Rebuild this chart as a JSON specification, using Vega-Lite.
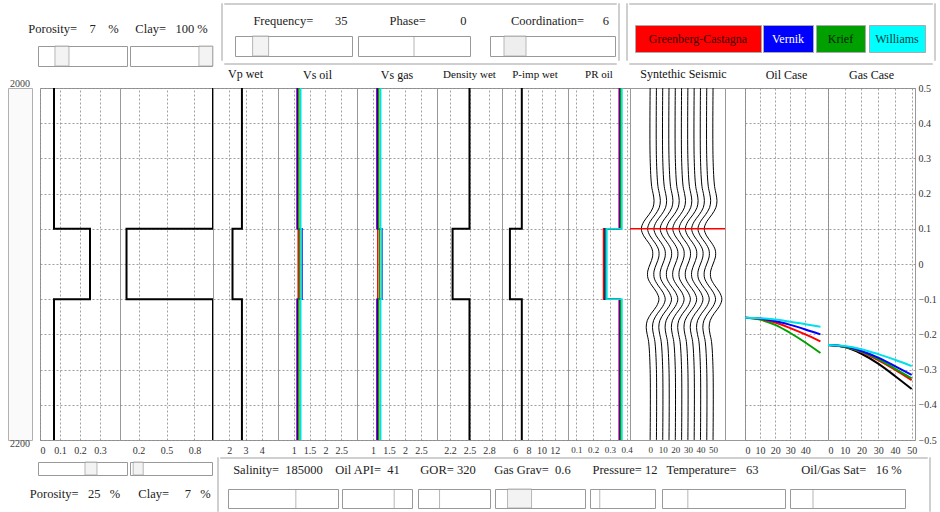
{
"$schema":"https://vega.github.io/schema/vega-lite/v6.json",
"background":"white",
"padding":{"left":0,"top":2,"right":0,"bottom":0},
"config":{
 "font":"Liberation Serif",
 "view":{"stroke":"#999"},
 "axis":{"domain":false,"ticks":false,"labelFont":"Liberation Serif","labelFontSize":10,"labelColor":"#333","labelPadding":5,"gridColor":"#888","gridDash":[2,2],"gridWidth":0.8,"labelOverlap":false},
 "title":{"font":"Liberation Serif","fontSize":12,"fontWeight":"normal","color":"#111","offset":4}
},
"datasets":{
 "logs":[
  {"t":"por","m":"K","i":0,"d":2000,"v":0.07},{"t":"por","m":"K","i":1,"d":2080,"v":0.07},{"t":"por","m":"K","i":2,"d":2080,"v":0.25},{"t":"por","m":"K","i":3,"d":2120,"v":0.25},{"t":"por","m":"K","i":4,"d":2120,"v":0.07},{"t":"por","m":"K","i":5,"d":2200,"v":0.07},
  {"t":"clay","m":"K","i":0,"d":2000,"v":1},{"t":"clay","m":"K","i":1,"d":2080,"v":1},{"t":"clay","m":"K","i":2,"d":2080,"v":0.07},{"t":"clay","m":"K","i":3,"d":2120,"v":0.07},{"t":"clay","m":"K","i":4,"d":2120,"v":1},{"t":"clay","m":"K","i":5,"d":2200,"v":1},
  {"t":"vp","m":"K","i":0,"d":2000,"v":2.78},{"t":"vp","m":"K","i":1,"d":2080,"v":2.78},{"t":"vp","m":"K","i":2,"d":2080,"v":2.2},{"t":"vp","m":"K","i":3,"d":2120,"v":2.2},{"t":"vp","m":"K","i":4,"d":2120,"v":2.78},{"t":"vp","m":"K","i":5,"d":2200,"v":2.78},
  {"t":"vsoil","m":"R","i":0,"d":2000,"v":1.10},{"t":"vsoil","m":"R","i":1,"d":2080,"v":1.10},{"t":"vsoil","m":"R","i":2,"d":2080,"v":1.14},{"t":"vsoil","m":"R","i":3,"d":2120,"v":1.14},{"t":"vsoil","m":"R","i":4,"d":2120,"v":1.10},{"t":"vsoil","m":"R","i":5,"d":2200,"v":1.10},
  {"t":"vsoil","m":"B","i":0,"d":2000,"v":1.12},{"t":"vsoil","m":"B","i":1,"d":2080,"v":1.12},{"t":"vsoil","m":"B","i":2,"d":2080,"v":1.26},{"t":"vsoil","m":"B","i":3,"d":2120,"v":1.26},{"t":"vsoil","m":"B","i":4,"d":2120,"v":1.12},{"t":"vsoil","m":"B","i":5,"d":2200,"v":1.12},
  {"t":"vsoil","m":"G","i":0,"d":2000,"v":1.16},{"t":"vsoil","m":"G","i":1,"d":2080,"v":1.16},{"t":"vsoil","m":"G","i":2,"d":2080,"v":1.19},{"t":"vsoil","m":"G","i":3,"d":2120,"v":1.19},{"t":"vsoil","m":"G","i":4,"d":2120,"v":1.16},{"t":"vsoil","m":"G","i":5,"d":2200,"v":1.16},
  {"t":"vsoil","m":"C","i":0,"d":2000,"v":1.22},{"t":"vsoil","m":"C","i":1,"d":2080,"v":1.22},{"t":"vsoil","m":"C","i":2,"d":2080,"v":1.24},{"t":"vsoil","m":"C","i":3,"d":2120,"v":1.24},{"t":"vsoil","m":"C","i":4,"d":2120,"v":1.22},{"t":"vsoil","m":"C","i":5,"d":2200,"v":1.22},
  {"t":"vsgas","m":"R","i":0,"d":2000,"v":1.12},{"t":"vsgas","m":"R","i":1,"d":2080,"v":1.12},{"t":"vsgas","m":"R","i":2,"d":2080,"v":1.15},{"t":"vsgas","m":"R","i":3,"d":2120,"v":1.15},{"t":"vsgas","m":"R","i":4,"d":2120,"v":1.12},{"t":"vsgas","m":"R","i":5,"d":2200,"v":1.12},
  {"t":"vsgas","m":"B","i":0,"d":2000,"v":1.14},{"t":"vsgas","m":"B","i":1,"d":2080,"v":1.14},{"t":"vsgas","m":"B","i":2,"d":2080,"v":1.28},{"t":"vsgas","m":"B","i":3,"d":2120,"v":1.28},{"t":"vsgas","m":"B","i":4,"d":2120,"v":1.14},{"t":"vsgas","m":"B","i":5,"d":2200,"v":1.14},
  {"t":"vsgas","m":"G","i":0,"d":2000,"v":1.18},{"t":"vsgas","m":"G","i":1,"d":2080,"v":1.18},{"t":"vsgas","m":"G","i":2,"d":2080,"v":1.21},{"t":"vsgas","m":"G","i":3,"d":2120,"v":1.21},{"t":"vsgas","m":"G","i":4,"d":2120,"v":1.18},{"t":"vsgas","m":"G","i":5,"d":2200,"v":1.18},
  {"t":"vsgas","m":"C","i":0,"d":2000,"v":1.24},{"t":"vsgas","m":"C","i":1,"d":2080,"v":1.24},{"t":"vsgas","m":"C","i":2,"d":2080,"v":1.27},{"t":"vsgas","m":"C","i":3,"d":2120,"v":1.27},{"t":"vsgas","m":"C","i":4,"d":2120,"v":1.24},{"t":"vsgas","m":"C","i":5,"d":2200,"v":1.24},
  {"t":"rho","m":"K","i":0,"d":2000,"v":2.5},{"t":"rho","m":"K","i":1,"d":2080,"v":2.5},{"t":"rho","m":"K","i":2,"d":2080,"v":2.24},{"t":"rho","m":"K","i":3,"d":2120,"v":2.24},{"t":"rho","m":"K","i":4,"d":2120,"v":2.5},{"t":"rho","m":"K","i":5,"d":2200,"v":2.5},
  {"t":"pimp","m":"K","i":0,"d":2000,"v":7.0},{"t":"pimp","m":"K","i":1,"d":2080,"v":7.0},{"t":"pimp","m":"K","i":2,"d":2080,"v":5.2},{"t":"pimp","m":"K","i":3,"d":2120,"v":5.2},{"t":"pimp","m":"K","i":4,"d":2120,"v":7.0},{"t":"pimp","m":"K","i":5,"d":2200,"v":7.0},
  {"t":"pr","m":"R","i":0,"d":2000,"v":0.355},{"t":"pr","m":"R","i":1,"d":2080,"v":0.355},{"t":"pr","m":"R","i":2,"d":2080,"v":0.262},{"t":"pr","m":"R","i":3,"d":2120,"v":0.262},{"t":"pr","m":"R","i":4,"d":2120,"v":0.355},{"t":"pr","m":"R","i":5,"d":2200,"v":0.355},
  {"t":"pr","m":"B","i":0,"d":2000,"v":0.36},{"t":"pr","m":"B","i":1,"d":2080,"v":0.36},{"t":"pr","m":"B","i":2,"d":2080,"v":0.27},{"t":"pr","m":"B","i":3,"d":2120,"v":0.27},{"t":"pr","m":"B","i":4,"d":2120,"v":0.36},{"t":"pr","m":"B","i":5,"d":2200,"v":0.36},
  {"t":"pr","m":"G","i":0,"d":2000,"v":0.365},{"t":"pr","m":"G","i":1,"d":2080,"v":0.365},{"t":"pr","m":"G","i":2,"d":2080,"v":0.275},{"t":"pr","m":"G","i":3,"d":2120,"v":0.275},{"t":"pr","m":"G","i":4,"d":2120,"v":0.365},{"t":"pr","m":"G","i":5,"d":2200,"v":0.365},
  {"t":"pr","m":"C","i":0,"d":2000,"v":0.372},{"t":"pr","m":"C","i":1,"d":2080,"v":0.372},{"t":"pr","m":"C","i":2,"d":2080,"v":0.282},{"t":"pr","m":"C","i":3,"d":2120,"v":0.282},{"t":"pr","m":"C","i":4,"d":2120,"v":0.372},{"t":"pr","m":"C","i":5,"d":2200,"v":0.372}
 ],
 "seis":[
  {"a":0,"d":2000,"x":0},{"a":0,"d":2040,"x":0},{"a":0,"d":2056,"x":1.23},{"a":0,"d":2060,"x":2.34},{"a":0,"d":2064,"x":3.12},{"a":0,"d":2068,"x":2.23},{"a":0,"d":2072,"x":-0.99},{"a":0,"d":2076,"x":-5.09},{"a":0,"d":2080,"x":-7},{"a":0,"d":2084,"x":-5.12},{"a":0,"d":2088,"x":-1.14},{"a":0,"d":2092,"x":1.75},{"a":0,"d":2096,"x":1.89},{"a":0,"d":2100,"x":0},{"a":0,"d":2104,"x":-1.89},{"a":0,"d":2108,"x":-1.75},{"a":0,"d":2112,"x":1.14},{"a":0,"d":2116,"x":5.12},{"a":0,"d":2120,"x":7},{"a":0,"d":2124,"x":5.09},{"a":0,"d":2128,"x":0.99},{"a":0,"d":2132,"x":-2.23},{"a":0,"d":2136,"x":-3.12},{"a":0,"d":2140,"x":-2.34},{"a":0,"d":2144,"x":-1.23},{"a":0,"d":2160,"x":0},{"a":0,"d":2200,"x":0},
  {"a":5,"d":2000,"x":5},{"a":5,"d":2040,"x":5},{"a":5,"d":2056,"x":6.23},{"a":5,"d":2060,"x":7.34},{"a":5,"d":2064,"x":8.12},{"a":5,"d":2068,"x":7.23},{"a":5,"d":2072,"x":4.01},{"a":5,"d":2076,"x":-0.09},{"a":5,"d":2080,"x":-2},{"a":5,"d":2084,"x":-0.12},{"a":5,"d":2088,"x":3.86},{"a":5,"d":2092,"x":6.75},{"a":5,"d":2096,"x":6.89},{"a":5,"d":2100,"x":5},{"a":5,"d":2104,"x":3.11},{"a":5,"d":2108,"x":3.25},{"a":5,"d":2112,"x":6.14},{"a":5,"d":2116,"x":10.12},{"a":5,"d":2120,"x":12},{"a":5,"d":2124,"x":10.09},{"a":5,"d":2128,"x":5.99},{"a":5,"d":2132,"x":2.77},{"a":5,"d":2136,"x":1.88},{"a":5,"d":2140,"x":2.66},{"a":5,"d":2144,"x":3.77},{"a":5,"d":2160,"x":5},{"a":5,"d":2200,"x":5},
  {"a":10,"d":2000,"x":10},{"a":10,"d":2040,"x":10},{"a":10,"d":2056,"x":11.23},{"a":10,"d":2060,"x":12.34},{"a":10,"d":2064,"x":13.12},{"a":10,"d":2068,"x":12.23},{"a":10,"d":2072,"x":9.01},{"a":10,"d":2076,"x":4.91},{"a":10,"d":2080,"x":3},{"a":10,"d":2084,"x":4.88},{"a":10,"d":2088,"x":8.86},{"a":10,"d":2092,"x":11.75},{"a":10,"d":2096,"x":11.89},{"a":10,"d":2100,"x":10},{"a":10,"d":2104,"x":8.11},{"a":10,"d":2108,"x":8.25},{"a":10,"d":2112,"x":11.14},{"a":10,"d":2116,"x":15.12},{"a":10,"d":2120,"x":17},{"a":10,"d":2124,"x":15.09},{"a":10,"d":2128,"x":10.99},{"a":10,"d":2132,"x":7.77},{"a":10,"d":2136,"x":6.88},{"a":10,"d":2140,"x":7.66},{"a":10,"d":2144,"x":8.77},{"a":10,"d":2160,"x":10},{"a":10,"d":2200,"x":10},
  {"a":15,"d":2000,"x":15},{"a":15,"d":2040,"x":15},{"a":15,"d":2056,"x":16.23},{"a":15,"d":2060,"x":17.34},{"a":15,"d":2064,"x":18.12},{"a":15,"d":2068,"x":17.23},{"a":15,"d":2072,"x":14.01},{"a":15,"d":2076,"x":9.91},{"a":15,"d":2080,"x":8},{"a":15,"d":2084,"x":9.88},{"a":15,"d":2088,"x":13.86},{"a":15,"d":2092,"x":16.75},{"a":15,"d":2096,"x":16.89},{"a":15,"d":2100,"x":15},{"a":15,"d":2104,"x":13.11},{"a":15,"d":2108,"x":13.25},{"a":15,"d":2112,"x":16.14},{"a":15,"d":2116,"x":20.12},{"a":15,"d":2120,"x":22},{"a":15,"d":2124,"x":20.09},{"a":15,"d":2128,"x":15.99},{"a":15,"d":2132,"x":12.77},{"a":15,"d":2136,"x":11.88},{"a":15,"d":2140,"x":12.66},{"a":15,"d":2144,"x":13.77},{"a":15,"d":2160,"x":15},{"a":15,"d":2200,"x":15},
  {"a":20,"d":2000,"x":20},{"a":20,"d":2040,"x":20},{"a":20,"d":2056,"x":21.23},{"a":20,"d":2060,"x":22.34},{"a":20,"d":2064,"x":23.12},{"a":20,"d":2068,"x":22.23},{"a":20,"d":2072,"x":19.01},{"a":20,"d":2076,"x":14.91},{"a":20,"d":2080,"x":13},{"a":20,"d":2084,"x":14.88},{"a":20,"d":2088,"x":18.86},{"a":20,"d":2092,"x":21.75},{"a":20,"d":2096,"x":21.89},{"a":20,"d":2100,"x":20},{"a":20,"d":2104,"x":18.11},{"a":20,"d":2108,"x":18.25},{"a":20,"d":2112,"x":21.14},{"a":20,"d":2116,"x":25.12},{"a":20,"d":2120,"x":27},{"a":20,"d":2124,"x":25.09},{"a":20,"d":2128,"x":20.99},{"a":20,"d":2132,"x":17.77},{"a":20,"d":2136,"x":16.88},{"a":20,"d":2140,"x":17.66},{"a":20,"d":2144,"x":18.77},{"a":20,"d":2160,"x":20},{"a":20,"d":2200,"x":20},
  {"a":25,"d":2000,"x":25},{"a":25,"d":2040,"x":25},{"a":25,"d":2056,"x":26.23},{"a":25,"d":2060,"x":27.34},{"a":25,"d":2064,"x":28.12},{"a":25,"d":2068,"x":27.23},{"a":25,"d":2072,"x":24.01},{"a":25,"d":2076,"x":19.91},{"a":25,"d":2080,"x":18},{"a":25,"d":2084,"x":19.88},{"a":25,"d":2088,"x":23.86},{"a":25,"d":2092,"x":26.75},{"a":25,"d":2096,"x":26.89},{"a":25,"d":2100,"x":25},{"a":25,"d":2104,"x":23.11},{"a":25,"d":2108,"x":23.25},{"a":25,"d":2112,"x":26.14},{"a":25,"d":2116,"x":30.12},{"a":25,"d":2120,"x":32},{"a":25,"d":2124,"x":30.09},{"a":25,"d":2128,"x":25.99},{"a":25,"d":2132,"x":22.77},{"a":25,"d":2136,"x":21.88},{"a":25,"d":2140,"x":22.66},{"a":25,"d":2144,"x":23.77},{"a":25,"d":2160,"x":25},{"a":25,"d":2200,"x":25},
  {"a":30,"d":2000,"x":30},{"a":30,"d":2040,"x":30},{"a":30,"d":2056,"x":31.23},{"a":30,"d":2060,"x":32.34},{"a":30,"d":2064,"x":33.12},{"a":30,"d":2068,"x":32.23},{"a":30,"d":2072,"x":29.01},{"a":30,"d":2076,"x":24.91},{"a":30,"d":2080,"x":23},{"a":30,"d":2084,"x":24.88},{"a":30,"d":2088,"x":28.86},{"a":30,"d":2092,"x":31.75},{"a":30,"d":2096,"x":31.89},{"a":30,"d":2100,"x":30},{"a":30,"d":2104,"x":28.11},{"a":30,"d":2108,"x":28.25},{"a":30,"d":2112,"x":31.14},{"a":30,"d":2116,"x":35.12},{"a":30,"d":2120,"x":37},{"a":30,"d":2124,"x":35.09},{"a":30,"d":2128,"x":30.99},{"a":30,"d":2132,"x":27.77},{"a":30,"d":2136,"x":26.88},{"a":30,"d":2140,"x":27.66},{"a":30,"d":2144,"x":28.77},{"a":30,"d":2160,"x":30},{"a":30,"d":2200,"x":30},
  {"a":35,"d":2000,"x":35},{"a":35,"d":2040,"x":35},{"a":35,"d":2056,"x":36.23},{"a":35,"d":2060,"x":37.34},{"a":35,"d":2064,"x":38.12},{"a":35,"d":2068,"x":37.23},{"a":35,"d":2072,"x":34.01},{"a":35,"d":2076,"x":29.91},{"a":35,"d":2080,"x":28},{"a":35,"d":2084,"x":29.88},{"a":35,"d":2088,"x":33.86},{"a":35,"d":2092,"x":36.75},{"a":35,"d":2096,"x":36.89},{"a":35,"d":2100,"x":35},{"a":35,"d":2104,"x":33.11},{"a":35,"d":2108,"x":33.25},{"a":35,"d":2112,"x":36.14},{"a":35,"d":2116,"x":40.12},{"a":35,"d":2120,"x":42},{"a":35,"d":2124,"x":40.09},{"a":35,"d":2128,"x":35.99},{"a":35,"d":2132,"x":32.77},{"a":35,"d":2136,"x":31.88},{"a":35,"d":2140,"x":32.66},{"a":35,"d":2144,"x":33.77},{"a":35,"d":2160,"x":35},{"a":35,"d":2200,"x":35},
  {"a":40,"d":2000,"x":40},{"a":40,"d":2040,"x":40},{"a":40,"d":2056,"x":41.23},{"a":40,"d":2060,"x":42.34},{"a":40,"d":2064,"x":43.12},{"a":40,"d":2068,"x":42.23},{"a":40,"d":2072,"x":39.01},{"a":40,"d":2076,"x":34.91},{"a":40,"d":2080,"x":33},{"a":40,"d":2084,"x":34.88},{"a":40,"d":2088,"x":38.86},{"a":40,"d":2092,"x":41.75},{"a":40,"d":2096,"x":41.89},{"a":40,"d":2100,"x":40},{"a":40,"d":2104,"x":38.11},{"a":40,"d":2108,"x":38.25},{"a":40,"d":2112,"x":41.14},{"a":40,"d":2116,"x":45.12},{"a":40,"d":2120,"x":47},{"a":40,"d":2124,"x":45.09},{"a":40,"d":2128,"x":40.99},{"a":40,"d":2132,"x":37.77},{"a":40,"d":2136,"x":36.88},{"a":40,"d":2140,"x":37.66},{"a":40,"d":2144,"x":38.77},{"a":40,"d":2160,"x":40},{"a":40,"d":2200,"x":40},
  {"a":45,"d":2000,"x":45},{"a":45,"d":2040,"x":45},{"a":45,"d":2056,"x":46.23},{"a":45,"d":2060,"x":47.34},{"a":45,"d":2064,"x":48.12},{"a":45,"d":2068,"x":47.23},{"a":45,"d":2072,"x":44.01},{"a":45,"d":2076,"x":39.91},{"a":45,"d":2080,"x":38},{"a":45,"d":2084,"x":39.88},{"a":45,"d":2088,"x":43.86},{"a":45,"d":2092,"x":46.75},{"a":45,"d":2096,"x":46.89},{"a":45,"d":2100,"x":45},{"a":45,"d":2104,"x":43.11},{"a":45,"d":2108,"x":43.25},{"a":45,"d":2112,"x":46.14},{"a":45,"d":2116,"x":50.12},{"a":45,"d":2120,"x":52},{"a":45,"d":2124,"x":50.09},{"a":45,"d":2128,"x":45.99},{"a":45,"d":2132,"x":42.77},{"a":45,"d":2136,"x":41.88},{"a":45,"d":2140,"x":42.66},{"a":45,"d":2144,"x":43.77},{"a":45,"d":2160,"x":45},{"a":45,"d":2200,"x":45},
  {"a":50,"d":2000,"x":50},{"a":50,"d":2040,"x":50},{"a":50,"d":2056,"x":51.23},{"a":50,"d":2060,"x":52.34},{"a":50,"d":2064,"x":53.12},{"a":50,"d":2068,"x":52.23},{"a":50,"d":2072,"x":49.01},{"a":50,"d":2076,"x":44.91},{"a":50,"d":2080,"x":43},{"a":50,"d":2084,"x":44.88},{"a":50,"d":2088,"x":48.86},{"a":50,"d":2092,"x":51.75},{"a":50,"d":2096,"x":51.89},{"a":50,"d":2100,"x":50},{"a":50,"d":2104,"x":48.11},{"a":50,"d":2108,"x":48.25},{"a":50,"d":2112,"x":51.14},{"a":50,"d":2116,"x":55.12},{"a":50,"d":2120,"x":57},{"a":50,"d":2124,"x":55.09},{"a":50,"d":2128,"x":50.99},{"a":50,"d":2132,"x":47.77},{"a":50,"d":2136,"x":46.88},{"a":50,"d":2140,"x":47.66},{"a":50,"d":2144,"x":48.77},{"a":50,"d":2160,"x":50},{"a":50,"d":2200,"x":50}
 ],
 "avo":[
  {"c":"oil","m":"G","a":0,"r":-0.153},{"c":"oil","m":"G","a":10,"r":-0.158},{"c":"oil","m":"G","a":20,"r":-0.173},{"c":"oil","m":"G","a":30,"r":-0.196},{"c":"oil","m":"G","a":40,"r":-0.223},{"c":"oil","m":"G","a":50,"r":-0.253},
  {"c":"oil","m":"R","a":0,"r":-0.153},{"c":"oil","m":"R","a":10,"r":-0.156},{"c":"oil","m":"R","a":20,"r":-0.166},{"c":"oil","m":"R","a":30,"r":-0.182},{"c":"oil","m":"R","a":40,"r":-0.2},{"c":"oil","m":"R","a":50,"r":-0.22},
  {"c":"oil","m":"B","a":0,"r":-0.153},{"c":"oil","m":"B","a":10,"r":-0.155},{"c":"oil","m":"B","a":20,"r":-0.162},{"c":"oil","m":"B","a":30,"r":-0.173},{"c":"oil","m":"B","a":40,"r":-0.186},{"c":"oil","m":"B","a":50,"r":-0.2},
  {"c":"oil","m":"C","a":0,"r":-0.153},{"c":"oil","m":"C","a":10,"r":-0.154},{"c":"oil","m":"C","a":20,"r":-0.158},{"c":"oil","m":"C","a":30,"r":-0.164},{"c":"oil","m":"C","a":40,"r":-0.171},{"c":"oil","m":"C","a":50,"r":-0.178},
  {"c":"gas","m":"K","a":0,"r":-0.23},{"c":"gas","m":"K","a":10,"r":-0.236},{"c":"gas","m":"K","a":20,"r":-0.255},{"c":"gas","m":"K","a":30,"r":-0.283},{"c":"gas","m":"K","a":40,"r":-0.318},{"c":"gas","m":"K","a":50,"r":-0.355},
  {"c":"gas","m":"R","a":0,"r":-0.23},{"c":"gas","m":"R","a":10,"r":-0.235},{"c":"gas","m":"R","a":20,"r":-0.25},{"c":"gas","m":"R","a":30,"r":-0.273},{"c":"gas","m":"R","a":40,"r":-0.3},{"c":"gas","m":"R","a":50,"r":-0.33},
  {"c":"gas","m":"G","a":0,"r":-0.23},{"c":"gas","m":"G","a":10,"r":-0.235},{"c":"gas","m":"G","a":20,"r":-0.249},{"c":"gas","m":"G","a":30,"r":-0.27},{"c":"gas","m":"G","a":40,"r":-0.297},{"c":"gas","m":"G","a":50,"r":-0.325},
  {"c":"gas","m":"B","a":0,"r":-0.23},{"c":"gas","m":"B","a":10,"r":-0.234},{"c":"gas","m":"B","a":20,"r":-0.247},{"c":"gas","m":"B","a":30,"r":-0.266},{"c":"gas","m":"B","a":40,"r":-0.29},{"c":"gas","m":"B","a":50,"r":-0.315},
  {"c":"gas","m":"C","a":0,"r":-0.23},{"c":"gas","m":"C","a":10,"r":-0.233},{"c":"gas","m":"C","a":20,"r":-0.242},{"c":"gas","m":"C","a":30,"r":-0.256},{"c":"gas","m":"C","a":40,"r":-0.272},{"c":"gas","m":"C","a":50,"r":-0.29}
 ]
},
"spacing":0,
"vconcat":[
 {"hconcat":[
   {"vconcat":[
     {"width":1,"height":17.5,"view":{"stroke":null},"data":{"values":[{}]},"mark":{"type":"text","text":"","fontSize":0}},
     {"hconcat":[
       {"width":25,"height":15,"view":{"stroke":null},"data":{"values":[{}]},"mark":{"type":"text","text":"","fontSize":0}},
       {"width":97,"height":15,"view":{"stroke":null},"data":{"values":[{"t":"Porosity=\u00a0\u00a0\u00a0\u00a07\u00a0\u00a0\u00a0\u00a0%"}]},"mark":{"type":"text","fontSize":12.5,"color":"#222"},"encoding":{"text":{"field":"t"}}},
       {"width":8,"height":15,"view":{"stroke":null},"data":{"values":[{}]},"mark":{"type":"text","text":"","fontSize":0}},
       {"width":83,"height":15,"view":{"stroke":null},"data":{"values":[{"t":"Clay=\u00a0\u00a0\u00a0100\u00a0%"}]},"mark":{"type":"text","fontSize":12.5,"color":"#222"},"encoding":{"text":{"field":"t"}}}
     ],"spacing":0,"bounds":"flush"},
     {"width":1,"height":8.5,"view":{"stroke":null},"data":{"values":[{}]},"mark":{"type":"text","text":"","fontSize":0}},
     {"hconcat":[
       {"width":38,"height":20,"view":{"stroke":null},"data":{"values":[{}]},"mark":{"type":"text","text":"","fontSize":0}},
       {"width":89,"height":20,"view":{"stroke":"#999","fill":"#fff"},"data":{"values":[{"v":7}]},"mark":{"type":"tick","orient":"vertical","thickness":14,"color":"#eeeeee","stroke":"#999","strokeWidth":1},"encoding":{"x":{"field":"v","type":"quantitative","scale":{"domain":[0,26]},"axis":null},"size":{"value":20}}},
       {"width":3,"height":20,"view":{"stroke":null},"data":{"values":[{}]},"mark":{"type":"text","text":"","fontSize":0}},
       {"width":82,"height":20,"view":{"stroke":"#999","fill":"#fff"},"data":{"values":[{"v":100}]},"mark":{"type":"tick","orient":"vertical","thickness":14,"color":"#eeeeee","stroke":"#999","strokeWidth":1},"encoding":{"x":{"field":"v","type":"quantitative","scale":{"domain":[0,108]},"axis":null},"size":{"value":20}}},
       {"width":3,"height":20,"view":{"stroke":null},"data":{"values":[{}]},"mark":{"type":"text","text":"","fontSize":0}}
     ],"spacing":0,"bounds":"flush"}
   ],"spacing":0},
   {"hconcat":[
     {"width":1,"height":57,"view":{"stroke":"#cfcfcf"},"data":{"values":[{}]},"mark":{"type":"text","text":"","fontSize":0}},
     {"vconcat":[
       {"width":392,"height":1,"view":{"stroke":"#cfcfcf"},"data":{"values":[{}]},"mark":{"type":"text","text":"","fontSize":0}},
       {"width":1,"height":8,"view":{"stroke":null},"data":{"values":[{}]},"mark":{"type":"text","text":"","fontSize":0}},
       {"hconcat":[
         {"width":24,"height":15,"view":{"stroke":null},"data":{"values":[{}]},"mark":{"type":"text","text":"","fontSize":0}},
         {"width":105,"height":15,"view":{"stroke":null},"data":{"values":[{"t":"Frequency=\u00a0\u00a0\u00a0\u00a0\u00a0\u00a0\u00a035"}]},"mark":{"type":"text","fontSize":12.5,"color":"#222"},"encoding":{"text":{"field":"t"}}},
         {"width":33,"height":15,"view":{"stroke":null},"data":{"values":[{}]},"mark":{"type":"text","text":"","fontSize":0}},
         {"width":84,"height":15,"view":{"stroke":null},"data":{"values":[{"t":"Phase=\u00a0\u00a0\u00a0\u00a0\u00a0\u00a0\u00a0\u00a0\u00a0\u00a0\u00a00"}]},"mark":{"type":"text","fontSize":12.5,"color":"#222"},"encoding":{"text":{"field":"t"}}},
         {"width":35,"height":15,"view":{"stroke":null},"data":{"values":[{}]},"mark":{"type":"text","text":"","fontSize":0}},
         {"width":110,"height":15,"view":{"stroke":null},"data":{"values":[{"t":"Coordination=\u00a0\u00a0\u00a0\u00a0\u00a0\u00a06"}]},"mark":{"type":"text","fontSize":12.5,"color":"#222"},"encoding":{"text":{"field":"t"}}}
       ],"spacing":0,"bounds":"flush"},
       {"width":1,"height":7,"view":{"stroke":null},"data":{"values":[{}]},"mark":{"type":"text","text":"","fontSize":0}},
       {"hconcat":[
         {"width":11,"height":20,"view":{"stroke":null},"data":{"values":[{}]},"mark":{"type":"text","text":"","fontSize":0}},
         {"width":117,"height":20,"view":{"stroke":"#999","fill":"#fff"},"data":{"values":[{"v":35}]},"mark":{"type":"tick","orient":"vertical","thickness":16,"color":"#eeeeee","stroke":"#999","strokeWidth":1},"encoding":{"x":{"field":"v","type":"quantitative","scale":{"domain":[0,160]},"axis":null},"size":{"value":20}}},
         {"width":6,"height":20,"view":{"stroke":null},"data":{"values":[{}]},"mark":{"type":"text","text":"","fontSize":0}},
         {"width":112,"height":20,"view":{"stroke":"#999","fill":"#fff"},"data":{"values":[{"v":0}]},"mark":{"type":"tick","orient":"vertical","thickness":1,"color":"#999"},"encoding":{"x":{"field":"v","type":"quantitative","scale":{"domain":[-180,180]},"axis":null},"size":{"value":20}}},
         {"width":20,"height":20,"view":{"stroke":null},"data":{"values":[{}]},"mark":{"type":"text","text":"","fontSize":0}},
         {"width":125,"height":20,"view":{"stroke":"#999","fill":"#fff"},"data":{"values":[{"v":6}]},"mark":{"type":"tick","orient":"vertical","thickness":22,"color":"#e8e8e8","stroke":"#999","strokeWidth":1},"encoding":{"x":{"field":"v","type":"quantitative","scale":{"domain":[0,30]},"axis":null},"size":{"value":20}}}
       ],"spacing":0,"bounds":"flush"},
       {"width":1,"height":5,"view":{"stroke":null},"data":{"values":[{}]},"mark":{"type":"text","text":"","fontSize":0}},
       {"width":392,"height":1,"view":{"stroke":"#cfcfcf"},"data":{"values":[{}]},"mark":{"type":"text","text":"","fontSize":0}}
     ],"spacing":0},
     {"width":1,"height":57,"view":{"stroke":"#cfcfcf"},"data":{"values":[{}]},"mark":{"type":"text","text":"","fontSize":0}}
   ],"spacing":0},
   {"hconcat":[
     {"width":1,"height":57,"view":{"stroke":"#cfcfcf"},"data":{"values":[{}]},"mark":{"type":"text","text":"","fontSize":0}},
     {"vconcat":[
       {"width":303,"height":1,"view":{"stroke":"#cfcfcf"},"data":{"values":[{}]},"mark":{"type":"text","text":"","fontSize":0}},
       {"width":1,"height":19,"view":{"stroke":null},"data":{"values":[{}]},"mark":{"type":"text","text":"","fontSize":0}},
       {"hconcat":[
         {"width":6,"height":27,"view":{"stroke":null},"data":{"values":[{}]},"mark":{"type":"text","text":"","fontSize":0}},
         {"width":126,"height":27,"view":{"fill":"#ff0000","stroke":"#aaa"},"data":{"values":[{"model":"Greenberg-Castagna"}]},"mark":{"type":"text","fontSize":12,"color":"#400000"},"encoding":{"text":{"field":"model"}}},
         {"width":2,"height":27,"view":{"stroke":null},"data":{"values":[{}]},"mark":{"type":"text","text":"","fontSize":0}},
         {"width":50,"height":27,"view":{"fill":"#0000ff","stroke":"#aaa"},"data":{"values":[{"model":"Vernik"}]},"mark":{"type":"text","fontSize":12,"color":"#ffffff"},"encoding":{"text":{"field":"model"}}},
         {"width":3,"height":27,"view":{"stroke":null},"data":{"values":[{}]},"mark":{"type":"text","text":"","fontSize":0}},
         {"width":49,"height":27,"view":{"fill":"#00a000","stroke":"#aaa"},"data":{"values":[{"model":"Krief"}]},"mark":{"type":"text","fontSize":12,"color":"#002000"},"encoding":{"text":{"field":"model"}}},
         {"width":4,"height":27,"view":{"stroke":null},"data":{"values":[{}]},"mark":{"type":"text","text":"","fontSize":0}},
         {"width":56,"height":27,"view":{"fill":"#00ffff","stroke":"#aaa"},"data":{"values":[{"model":"Williams"}]},"mark":{"type":"text","fontSize":12,"color":"#004040"},"encoding":{"text":{"field":"model"}}}
       ],"spacing":0,"bounds":"flush"},
       {"width":1,"height":9,"view":{"stroke":null},"data":{"values":[{}]},"mark":{"type":"text","text":"","fontSize":0}},
       {"width":303,"height":1,"view":{"stroke":"#cfcfcf"},"data":{"values":[{}]},"mark":{"type":"text","text":"","fontSize":0}}
     ],"spacing":0},
     {"width":1,"height":57,"view":{"stroke":"#cfcfcf"},"data":{"values":[{}]},"mark":{"type":"text","text":"","fontSize":0}}
   ],"spacing":0}
 ],"spacing":5},
 {"hconcat":[
   {"width":8,"height":352,"view":{"stroke":null},"data":{"values":[{}]},"mark":{"type":"text","text":"","fontSize":0}},
   {"width":24,"height":352,"view":{"stroke":"#b0b0b0","fill":"#fafafa"},"layer":[
     {"data":{"values":[{"d":2000,"t":"2000"}]},"mark":{"type":"text","fontSize":10,"color":"#444","baseline":"bottom","dy":1},"encoding":{"y":{"field":"d","type":"quantitative","scale":{"domain":[2000,2200],"reverse":true,"nice":false},"axis":null},"text":{"field":"t"}}},
     {"data":{"values":[{"d":2200,"t":"2200"}]},"mark":{"type":"text","fontSize":10,"color":"#444","baseline":"top","dy":-1},"encoding":{"y":{"field":"d","type":"quantitative"},"text":{"field":"t"}}}
   ]},
   {"width":8,"height":352,"view":{"stroke":null},"data":{"values":[{}]},"mark":{"type":"text","text":"","fontSize":0}},
   {"width":80,"height":352,"data":{"name":"logs"},"transform":[{"filter":"datum.t==='por'"}],"mark":{"type":"line","strokeWidth":2},"encoding":{"x":{"field":"v","type":"quantitative","scale":{"domain":[0,0.4],"nice":false,"zero":false},"axis":{"values":[0,0.1,0.2,0.3],"format":"~g","title":null}},"y":{"field":"d","type":"quantitative","scale":{"domain":[2000,2200],"reverse":true,"nice":false,"zero":false},"axis":{"values":[2000,2020,2040,2060,2080,2100,2120,2140,2160,2180,2200],"labels":false,"title":null}},"color":{"field":"m","type":"nominal","scale":{"domain":["K","R","B","G","C"],"range":["#000000","#ff0000","#0000ff","#00a000","#00e0e8"]},"legend":null},"order":{"field":"i"}}},
   {"width":93,"height":352,"data":{"name":"logs"},"transform":[{"filter":"datum.t==='clay'"}],"mark":{"type":"line","strokeWidth":2},"encoding":{"x":{"field":"v","type":"quantitative","scale":{"domain":[0,1],"nice":false,"zero":false},"axis":{"values":[0.2,0.5,0.8],"format":"~g","title":null}},"y":{"field":"d","type":"quantitative","scale":{"domain":[2000,2200],"reverse":true,"nice":false,"zero":false},"axis":{"values":[2000,2020,2040,2060,2080,2100,2120,2140,2160,2180,2200],"labels":false,"title":null}},"color":{"field":"m","type":"nominal","scale":{"domain":["K","R","B","G","C"],"range":["#000000","#ff0000","#0000ff","#00a000","#00e0e8"]},"legend":null},"order":{"field":"i"}}},
   {"width":65,"height":352,"title":{"text":"Vp wet","offset":3},"data":{"name":"logs"},"transform":[{"filter":"datum.t==='vp'"}],"mark":{"type":"line","strokeWidth":2},"encoding":{"x":{"field":"v","type":"quantitative","scale":{"domain":[1,5],"nice":false,"zero":false},"axis":{"values":[2,3,4],"format":"~g","title":null}},"y":{"field":"d","type":"quantitative","scale":{"domain":[2000,2200],"reverse":true,"nice":false,"zero":false},"axis":{"values":[2000,2020,2040,2060,2080,2100,2120,2140,2160,2180,2200],"labels":false,"title":null}},"color":{"field":"m","type":"nominal","scale":{"domain":["K","R","B","G","C"],"range":["#000000","#ff0000","#0000ff","#00a000","#00e0e8"]},"legend":null},"order":{"field":"i"}}},
   {"width":79,"height":352,"title":{"text":"Vs oil","offset":3},"data":{"name":"logs"},"transform":[{"filter":"datum.t==='vsoil'"}],"mark":{"type":"line","strokeWidth":1.5},"encoding":{"x":{"field":"v","type":"quantitative","scale":{"domain":[0.5,3],"nice":false,"zero":false},"axis":{"values":[1,1.5,2,2.5],"format":"~g","title":null}},"y":{"field":"d","type":"quantitative","scale":{"domain":[2000,2200],"reverse":true,"nice":false,"zero":false},"axis":{"values":[2000,2020,2040,2060,2080,2100,2120,2140,2160,2180,2200],"labels":false,"title":null}},"color":{"field":"m","type":"nominal","scale":{"domain":["K","R","B","G","C"],"range":["#000000","#ff0000","#0000ff","#00a000","#00e0e8"]},"legend":null},"order":{"field":"i"}}},
   {"width":80,"height":352,"title":{"text":"Vs gas","offset":3},"data":{"name":"logs"},"transform":[{"filter":"datum.t==='vsgas'"}],"mark":{"type":"line","strokeWidth":1.5},"encoding":{"x":{"field":"v","type":"quantitative","scale":{"domain":[0.5,3],"nice":false,"zero":false},"axis":{"values":[1,1.5,2,2.5],"format":"~g","title":null}},"y":{"field":"d","type":"quantitative","scale":{"domain":[2000,2200],"reverse":true,"nice":false,"zero":false},"axis":{"values":[2000,2020,2040,2060,2080,2100,2120,2140,2160,2180,2200],"labels":false,"title":null}},"color":{"field":"m","type":"nominal","scale":{"domain":["K","R","B","G","C"],"range":["#000000","#ff0000","#0000ff","#00a000","#00e0e8"]},"legend":null},"order":{"field":"i"}}},
   {"width":65,"height":352,"title":{"text":"Density wet","fontSize":11,"offset":4},"data":{"name":"logs"},"transform":[{"filter":"datum.t==='rho'"}],"mark":{"type":"line","strokeWidth":2},"encoding":{"x":{"field":"v","type":"quantitative","scale":{"domain":[2,3],"nice":false,"zero":false},"axis":{"values":[2.2,2.5,2.8],"format":"~g","title":null}},"y":{"field":"d","type":"quantitative","scale":{"domain":[2000,2200],"reverse":true,"nice":false,"zero":false},"axis":{"values":[2000,2020,2040,2060,2080,2100,2120,2140,2160,2180,2200],"labels":false,"title":null}},"color":{"field":"m","type":"nominal","scale":{"domain":["K","R","B","G","C"],"range":["#000000","#ff0000","#0000ff","#00a000","#00e0e8"]},"legend":null},"order":{"field":"i"}}},
   {"width":66,"height":352,"title":{"text":"P-imp wet","fontSize":11,"offset":4},"data":{"name":"logs"},"transform":[{"filter":"datum.t==='pimp'"}],"mark":{"type":"line","strokeWidth":2},"encoding":{"x":{"field":"v","type":"quantitative","scale":{"domain":[4,14],"nice":false,"zero":false},"axis":{"values":[6,8,10,12],"format":"~g","title":null}},"y":{"field":"d","type":"quantitative","scale":{"domain":[2000,2200],"reverse":true,"nice":false,"zero":false},"axis":{"values":[2000,2020,2040,2060,2080,2100,2120,2140,2160,2180,2200],"labels":false,"title":null}},"color":{"field":"m","type":"nominal","scale":{"domain":["K","R","B","G","C"],"range":["#000000","#ff0000","#0000ff","#00a000","#00e0e8"]},"legend":null},"order":{"field":"i"}}},
   {"width":62,"height":352,"title":{"text":"PR oil","fontSize":11,"offset":5},"data":{"name":"logs"},"transform":[{"filter":"datum.t==='pr'"}],"mark":{"type":"line","strokeWidth":1.5},"encoding":{"x":{"field":"v","type":"quantitative","scale":{"domain":[0.05,0.42],"nice":false,"zero":false},"axis":{"values":[0.1,0.2,0.3,0.4],"format":"~g","title":null,"labelFontSize":9}},"y":{"field":"d","type":"quantitative","scale":{"domain":[2000,2200],"reverse":true,"nice":false,"zero":false},"axis":{"values":[2000,2020,2040,2060,2080,2100,2120,2140,2160,2180,2200],"labels":false,"title":null}},"color":{"field":"m","type":"nominal","scale":{"domain":["K","R","B","G","C"],"range":["#000000","#ff0000","#0000ff","#00a000","#00e0e8"]},"legend":null},"order":{"field":"i"}}},
   {"width":95,"height":352,"title":{"text":"Syntethic Seismic","dx":6,"offset":5},"layer":[
     {"data":{"name":"seis"},"mark":{"type":"line","strokeWidth":1,"color":"#000","interpolate":"catmull-rom"},"encoding":{"x":{"field":"x","type":"quantitative","scale":{"domain":[-16,59.5],"nice":false,"zero":false},"axis":{"values":[0,10,20,30,40,50],"grid":false,"title":null,"labelFontSize":9}},"y":{"field":"d","type":"quantitative","scale":{"domain":[2000,2200],"reverse":true,"nice":false,"zero":false},"axis":null},"detail":{"field":"a"},"order":{"field":"d"}}},
     {"data":{"values":[{"d":2080}]},"mark":{"type":"rule","color":"#ff0000","strokeWidth":1.5},"encoding":{"y":{"field":"d","type":"quantitative"}}}
   ]},
   {"width":20,"height":352,"view":{"stroke":"#999"},"data":{"values":[{}]},"mark":{"type":"text","text":"","fontSize":0}},
   {"width":83,"height":352,"title":{"text":"Oil Case","offset":6},"data":{"name":"avo"},"transform":[{"filter":"datum.c==='oil'"}],"mark":{"type":"line","strokeWidth":2,"interpolate":"monotone"},"encoding":{"x":{"field":"a","type":"quantitative","scale":{"domain":[0,55],"nice":false,"zero":false},"axis":{"values":[0,10,20,30,40],"title":null}},"y":{"field":"r","type":"quantitative","scale":{"domain":[-0.5,0.5],"nice":false,"zero":false},"axis":{"values":[-0.5,-0.4,-0.3,-0.2,-0.1,0,0.1,0.2,0.3,0.4,0.5],"labels":false,"title":null}},"color":{"field":"m","type":"nominal","scale":{"domain":["K","R","B","G","C"],"range":["#000000","#ff0000","#0000ff","#00a000","#00e0e8"]},"legend":null}}},
   {"width":87,"height":352,"title":{"text":"Gas Case","offset":1},"data":{"name":"avo"},"transform":[{"filter":"datum.c==='gas'"}],"mark":{"type":"line","strokeWidth":2,"interpolate":"monotone"},"encoding":{"x":{"field":"a","type":"quantitative","scale":{"domain":[0,52],"nice":false,"zero":false},"axis":{"values":[0,10,20,30,40,50],"title":null}},"y":{"field":"r","type":"quantitative","scale":{"domain":[-0.5,0.5],"nice":false,"zero":false},"axis":{"orient":"right","values":[-0.5,-0.4,-0.3,-0.2,-0.1,0,0.1,0.2,0.3,0.4,0.5],"labelExpr":"datum.value == 0 ? '0' : format(datum.value, '.1f')","labelPadding":3,"title":null}},"color":{"field":"m","type":"nominal","scale":{"domain":["K","R","B","G","C"],"range":["#000000","#ff0000","#0000ff","#00a000","#00e0e8"]},"legend":null}}}
 ],"spacing":0,"bounds":"flush"},
 {"hconcat":[
   {"vconcat":[
     {"width":1,"height":4,"view":{"stroke":null},"data":{"values":[{}]},"mark":{"type":"text","text":"","fontSize":0}},
     {"hconcat":[
       {"width":38,"height":13,"view":{"stroke":null},"data":{"values":[{}]},"mark":{"type":"text","text":"","fontSize":0}},
       {"width":89,"height":13,"view":{"stroke":"#999","fill":"#fff"},"data":{"values":[{"v":25}]},"mark":{"type":"tick","orient":"vertical","thickness":12,"color":"#eeeeee","stroke":"#999","strokeWidth":1},"encoding":{"x":{"field":"v","type":"quantitative","scale":{"domain":[0,42]},"axis":null},"size":{"value":13}}},
       {"width":3,"height":13,"view":{"stroke":null},"data":{"values":[{}]},"mark":{"type":"text","text":"","fontSize":0}},
       {"width":82,"height":13,"view":{"stroke":"#999","fill":"#fff"},"data":{"values":[{"v":7}]},"mark":{"type":"tick","orient":"vertical","thickness":10,"color":"#eeeeee","stroke":"#999","strokeWidth":1},"encoding":{"x":{"field":"v","type":"quantitative","scale":{"domain":[0,70]},"axis":null},"size":{"value":13}}}
     ],"spacing":0,"bounds":"flush"},
     {"width":1,"height":10,"view":{"stroke":null},"data":{"values":[{}]},"mark":{"type":"text","text":"","fontSize":0}},
     {"hconcat":[
       {"width":30,"height":15,"view":{"stroke":null},"data":{"values":[{}]},"mark":{"type":"text","text":"","fontSize":0}},
       {"width":90,"height":15,"view":{"stroke":null},"data":{"values":[{"t":"Porosity=\u00a0\u00a0\u00a025\u00a0\u00a0\u00a0%"}]},"mark":{"type":"text","fontSize":12.5,"color":"#222"},"encoding":{"text":{"field":"t"}}},
       {"width":17,"height":15,"view":{"stroke":null},"data":{"values":[{}]},"mark":{"type":"text","text":"","fontSize":0}},
       {"width":75,"height":15,"view":{"stroke":null},"data":{"values":[{"t":"Clay=\u00a0\u00a0\u00a0\u00a0\u00a07\u00a0\u00a0\u00a0%"}]},"mark":{"type":"text","fontSize":12.5,"color":"#222"},"encoding":{"text":{"field":"t"}}}
     ],"spacing":0,"bounds":"flush"}
   ],"spacing":0},
   {"hconcat":[
     {"width":1,"height":54,"view":{"stroke":"#cfcfcf"},"data":{"values":[{}]},"mark":{"type":"text","text":"","fontSize":0}},
     {"vconcat":[
       {"width":707,"height":1,"view":{"stroke":"#cfcfcf"},"data":{"values":[{}]},"mark":{"type":"text","text":"","fontSize":0}},
       {"width":1,"height":3,"view":{"stroke":null},"data":{"values":[{}]},"mark":{"type":"text","text":"","fontSize":0}},
       {"hconcat":[
         {"width":8,"height":15,"view":{"stroke":null},"data":{"values":[{}]},"mark":{"type":"text","text":"","fontSize":0}},
         {"width":100,"height":15,"view":{"stroke":null},"data":{"values":[{"t":"Salinity=\u00a0\u00a0185000"}]},"mark":{"type":"text","fontSize":12.5,"color":"#222"},"encoding":{"text":{"field":"t"}}},
         {"width":9,"height":15,"view":{"stroke":null},"data":{"values":[{}]},"mark":{"type":"text","text":"","fontSize":0}},
         {"width":61,"height":15,"view":{"stroke":null},"data":{"values":[{"t":"Oil API=\u00a0\u00a041"}]},"mark":{"type":"text","fontSize":12.5,"color":"#222"},"encoding":{"text":{"field":"t"}}},
         {"width":20,"height":15,"view":{"stroke":null},"data":{"values":[{}]},"mark":{"type":"text","text":"","fontSize":0}},
         {"width":60,"height":15,"view":{"stroke":null},"data":{"values":[{"t":"GOR=\u00a0320"}]},"mark":{"type":"text","fontSize":12.5,"color":"#222"},"encoding":{"text":{"field":"t"}}},
         {"width":9,"height":15,"view":{"stroke":null},"data":{"values":[{}]},"mark":{"type":"text","text":"","fontSize":0}},
         {"width":91,"height":15,"view":{"stroke":null},"data":{"values":[{"t":"Gas Grav=\u00a0\u00a00.6"}]},"mark":{"type":"text","fontSize":12.5,"color":"#222"},"encoding":{"text":{"field":"t"}}},
         {"width":12,"height":15,"view":{"stroke":null},"data":{"values":[{}]},"mark":{"type":"text","text":"","fontSize":0}},
         {"width":70,"height":15,"view":{"stroke":null},"data":{"values":[{"t":"Pressure=\u00a012"}]},"mark":{"type":"text","fontSize":12.5,"color":"#222"},"encoding":{"text":{"field":"t"}}},
         {"width":10,"height":15,"view":{"stroke":null},"data":{"values":[{}]},"mark":{"type":"text","text":"","fontSize":0}},
         {"width":85,"height":15,"view":{"stroke":null},"data":{"values":[{"t":"Temperature=\u00a0\u00a0\u00a063"}]},"mark":{"type":"text","fontSize":12.5,"color":"#222"},"encoding":{"text":{"field":"t"}}},
         {"width":43,"height":15,"view":{"stroke":null},"data":{"values":[{}]},"mark":{"type":"text","text":"","fontSize":0}},
         {"width":107,"height":15,"view":{"stroke":null},"data":{"values":[{"t":"Oil/Gas Sat=\u00a0\u00a0\u00a016\u00a0%"}]},"mark":{"type":"text","fontSize":12.5,"color":"#222"},"encoding":{"text":{"field":"t"}}}
       ],"spacing":0,"bounds":"flush"},
       {"width":1,"height":11,"view":{"stroke":null},"data":{"values":[{}]},"mark":{"type":"text","text":"","fontSize":0}},
       {"hconcat":[
         {"width":8,"height":19,"view":{"stroke":null},"data":{"values":[{}]},"mark":{"type":"text","text":"","fontSize":0}},
         {"width":110,"height":19,"view":{"stroke":"#999","fill":"#fff"},"data":{"values":[{"v":185000}]},"mark":{"type":"tick","orient":"vertical","thickness":1,"color":"#999"},"encoding":{"x":{"field":"v","type":"quantitative","scale":{"domain":[0,300000]},"axis":null},"size":{"value":19}}},
         {"width":4,"height":19,"view":{"stroke":null},"data":{"values":[{}]},"mark":{"type":"text","text":"","fontSize":0}},
         {"width":70,"height":19,"view":{"stroke":"#999","fill":"#fff"},"data":{"values":[{"v":41}]},"mark":{"type":"tick","orient":"vertical","thickness":1,"color":"#999"},"encoding":{"x":{"field":"v","type":"quantitative","scale":{"domain":[0,55]},"axis":null},"size":{"value":19}}},
         {"width":6,"height":19,"view":{"stroke":null},"data":{"values":[{}]},"mark":{"type":"text","text":"","fontSize":0}},
         {"width":72,"height":19,"view":{"stroke":"#999","fill":"#fff"},"data":{"values":[{"v":320}]},"mark":{"type":"tick","orient":"vertical","thickness":1,"color":"#999"},"encoding":{"x":{"field":"v","type":"quantitative","scale":{"domain":[0,1070]},"axis":null},"size":{"value":19}}},
         {"width":5,"height":19,"view":{"stroke":null},"data":{"values":[{}]},"mark":{"type":"text","text":"","fontSize":0}},
         {"width":90,"height":19,"view":{"stroke":"#999","fill":"#fff"},"data":{"values":[{"v":0.6}]},"mark":{"type":"tick","orient":"vertical","thickness":24,"color":"#eeeeee","stroke":"#999","strokeWidth":1},"encoding":{"x":{"field":"v","type":"quantitative","scale":{"domain":[0.3,1.4]},"axis":null},"size":{"value":19}}},
         {"width":5,"height":19,"view":{"stroke":null},"data":{"values":[{}]},"mark":{"type":"text","text":"","fontSize":0}},
         {"width":65,"height":19,"view":{"stroke":"#999","fill":"#fff"},"data":{"values":[{"v":12}]},"mark":{"type":"tick","orient":"vertical","thickness":1,"color":"#999"},"encoding":{"x":{"field":"v","type":"quantitative","scale":{"domain":[0,80]},"axis":null},"size":{"value":19}}},
         {"width":7,"height":19,"view":{"stroke":null},"data":{"values":[{}]},"mark":{"type":"text","text":"","fontSize":0}},
         {"width":123,"height":19,"view":{"stroke":"#999","fill":"#fff"},"data":{"values":[{"v":63}]},"mark":{"type":"tick","orient":"vertical","thickness":1,"color":"#999"},"encoding":{"x":{"field":"v","type":"quantitative","scale":{"domain":[0,300]},"axis":null},"size":{"value":19}}},
         {"width":5,"height":19,"view":{"stroke":null},"data":{"values":[{}]},"mark":{"type":"text","text":"","fontSize":0}},
         {"width":115,"height":19,"view":{"stroke":"#999","fill":"#fff"},"data":{"values":[{"v":16}]},"mark":{"type":"tick","orient":"vertical","thickness":1,"color":"#999"},"encoding":{"x":{"field":"v","type":"quantitative","scale":{"domain":[0,80]},"axis":null},"size":{"value":19}}}
       ],"spacing":0,"bounds":"flush"}
     ],"spacing":0},
     {"width":1,"height":54,"view":{"stroke":"#cfcfcf"},"data":{"values":[{}]},"mark":{"type":"text","text":"","fontSize":0}}
   ],"spacing":0}
 ],"spacing":3}
]
}
